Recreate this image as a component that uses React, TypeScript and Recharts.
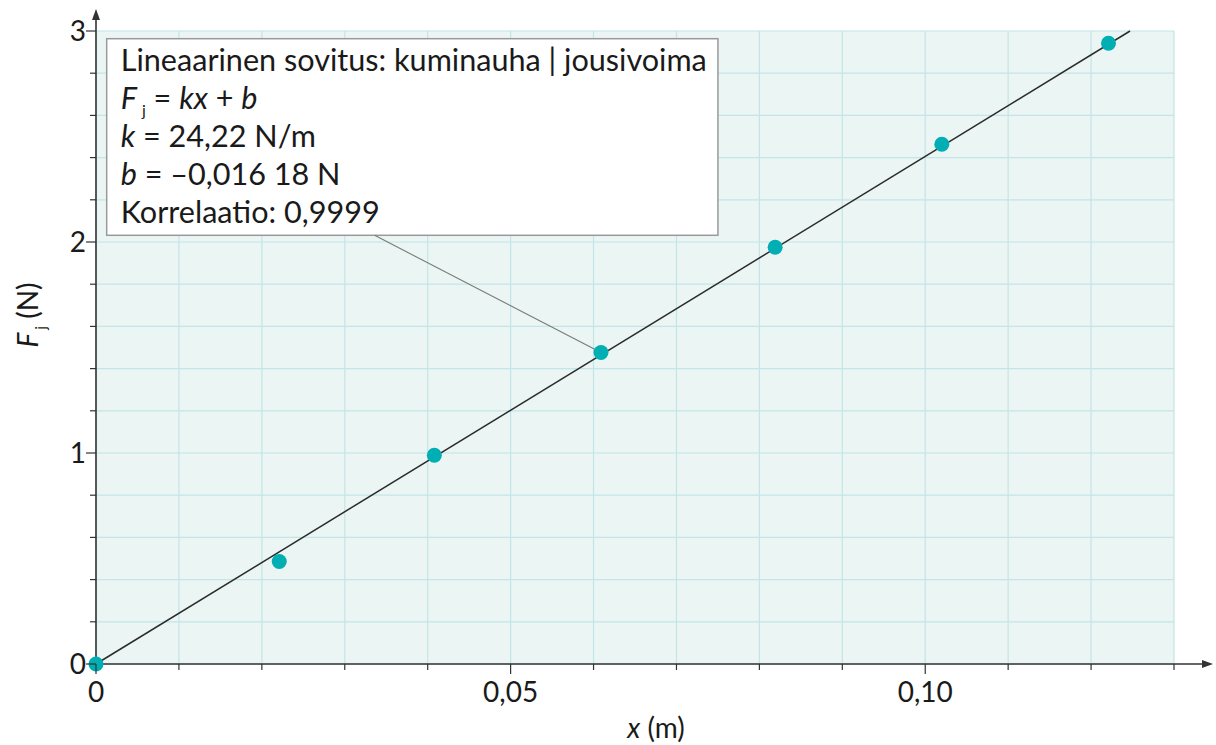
import React from 'react';
import {
  ComposedChart,
  Line,
  Scatter,
  XAxis,
  YAxis,
  CartesianGrid,
  ReferenceLine,
  ReferenceArea,
  Label,
} from 'recharts';

// measured points: stretch x (m) vs spring force F (N)
const stretch = [0, 0.0221, 0.0408, 0.0609, 0.0819, 0.102, 0.1221];
const force = [0, 0.486, 0.989, 1.476, 1.975, 2.463, 2.942];

// fitted line end points
const fitX = [0, 0.1247];
const fitF = [0, 3];

const xTicks = [0, 0.01, 0.02, 0.03, 0.04, 0.05, 0.06, 0.07, 0.08, 0.09, 0.1, 0.11, 0.12, 0.13];
const yTicks = [0, 0.2, 0.4, 0.6, 0.8, 1, 1.2, 1.4, 1.6, 1.8, 2, 2.2, 2.4, 2.6, 2.8, 3];

const fitTitle = 'Lineaarinen sovitus: kuminauha | jousivoima';
const kText = ' = 24,22 N/m';
const bText = ' = –0,016 18 N';
const corrText = 'Korrelaatio: 0,9999';

const points = stretch.map((x, i) => ({ x, F: force[i] }));
const fitLine = fitX.map((x, i) => ({ x, F: fitF[i] }));

const FONT = 'Lato, "Open Sans", sans-serif';
const INK = '#1a1a1a';
const AXIS = '#333333';
const TEAL = '#00aeb3';

const isMajor = (v: number, step: number) => Math.abs(v / step - Math.round(v / step)) < 1e-6;
const fmt = (v: number) => (v === 0 ? '0' : v.toFixed(2).replace('.', ','));

const XTick = (props: any) => {
  const { x, y, payload } = props;
  const major = isMajor(payload.value, 0.05);
  return (
    <g>
      <line x1={x} x2={x} y1={y} y2={y + (major ? 10 : 6)} stroke={AXIS} strokeWidth={1.2} />
      {major && (
        <text x={x} y={y + 38} textAnchor="middle" fontSize={28} fontFamily={FONT} fill={INK}>
          {fmt(payload.value)}
        </text>
      )}
    </g>
  );
};

const YTick = (props: any) => {
  const { x, y, payload } = props;
  const major = isMajor(payload.value, 1);
  return (
    <g>
      <line x1={x} x2={x - (major ? 10 : 6)} y1={y} y2={y} stroke={AXIS} strokeWidth={1.2} />
      {major && (
        <text x={x - 10} y={y + 10} textAnchor="end" fontSize={28} fontFamily={FONT} fill={INK}>
          {payload.value}
        </text>
      )}
    </g>
  );
};

const Arrow = (props: any) => {
  const { x1, y1, x2, y2 } = props;
  const ang = Math.atan2(y2 - y1, x2 - x1);
  const len = 11;
  const half = 4;
  const bx = x2 - len * Math.cos(ang);
  const by = y2 - len * Math.sin(ang);
  const px = -Math.sin(ang) * half;
  const py = Math.cos(ang) * half;
  return (
    <g>
      <line x1={x1} y1={y1} x2={bx} y2={by} stroke={AXIS} strokeWidth={1.6} />
      <polygon points={`${x2},${y2} ${bx + px},${by + py} ${bx - px},${by - py}`} fill={AXIS} />
    </g>
  );
};

const InfoBox = (props: any) => {
  const { x, y, width, height } = props;
  const tx = x + 14;
  const line = (i: number) => y + 32 + i * 38;
  return (
    <g fontFamily={FONT} fontSize={30.6} fill={INK}>
      <rect x={x} y={y} width={width} height={height} fill="#ffffff" stroke="#9a9a9a" strokeWidth={1.5} />
      <text x={tx} y={line(0)}>{fitTitle}</text>
      <text x={tx} y={line(1)}>
        <tspan fontStyle="italic">F</tspan>
        <tspan dx={5} dy={7} fontSize={16}>j</tspan>
        <tspan dy={-7}>{' = '}</tspan>
        <tspan fontStyle="italic">kx</tspan>
        <tspan>{' + '}</tspan>
        <tspan fontStyle="italic">b</tspan>
      </text>
      <text x={tx} y={line(2)}>
        <tspan fontStyle="italic">k</tspan>
        <tspan>{kText}</tspan>
      </text>
      <text x={tx} y={line(3)}>
        <tspan fontStyle="italic">b</tspan>
        <tspan>{bText}</tspan>
      </text>
      <text x={tx} y={line(4)}>{corrText}</text>
    </g>
  );
};

const XLabel = (props: any) => {
  const { viewBox } = props;
  return (
    <text x={viewBox.x + 560} y={viewBox.y + 74} textAnchor="middle" fontSize={28} fontFamily={FONT} fill={INK}>
      <tspan fontStyle="italic">x</tspan>
      <tspan>{' (m)'}</tspan>
    </text>
  );
};

const YLabel = (props: any) => {
  const { viewBox } = props;
  const cx = viewBox.x + 38;
  const cy = viewBox.y + 284;
  return (
    <text
      x={cx}
      y={cy}
      textAnchor="middle"
      fontSize={28}
      fontFamily={FONT}
      fill={INK}
      transform={`rotate(-90 ${cx} ${cy})`}
    >
      <tspan fontStyle="italic">F</tspan>
      <tspan dx={3} dy={8} fontSize={16}>j</tspan>
      <tspan dy={-8}>{' (N)'}</tspan>
    </text>
  );
};

export default function App() {
  return (
    <div style={{ position: 'absolute', left: 0, top: 0 }}>
      <ComposedChart
        width={1216}
        height={745}
        margin={{ top: 31, right: 42, bottom: 0, left: 0 }}
      >
        <CartesianGrid fill="#ebf5f3" stroke="#c3e5e7" strokeWidth={1.2} />
        <XAxis
          type="number"
          dataKey="x"
          domain={[0, 0.13]}
          ticks={xTicks}
          interval={0}
          height={81}
          axisLine={false}
          tickLine={false}
          tickSize={0}
          tickMargin={0}
          tick={<XTick />}
        >
          <Label content={<XLabel />} />
        </XAxis>
        <YAxis
          type="number"
          dataKey="F"
          domain={[0, 3]}
          ticks={yTicks}
          interval={0}
          width={96}
          axisLine={false}
          tickLine={false}
          tickSize={0}
          tickMargin={0}
          tick={<YTick />}
        >
          <Label content={<YLabel />} />
        </YAxis>
        <ReferenceLine
          segment={[{ x: 0, y: 0 }, { x: 0, y: 3.104 }]}
          ifOverflow="visible"
          shape={<Arrow />}
        />
        <ReferenceLine
          segment={[{ x: 0, y: 0 }, { x: 0.1347, y: 0 }]}
          ifOverflow="visible"
          shape={<Arrow />}
        />
        <ReferenceArea
          x1={0.00129}
          x2={0.075}
          y1={2.0318}
          y2={2.9635}
          ifOverflow="visible"
          shape={<InfoBox />}
        />
        <ReferenceLine
          segment={[{ x: 0.0336, y: 2.0318 }, { x: 0.0609, y: 1.476 }]}
          ifOverflow="visible"
          stroke="#7a7a7a"
          strokeWidth={1.1}
        />
        <Line
          data={fitLine}
          dataKey="F"
          stroke="#2b2b2b"
          strokeWidth={1.5}
          dot={false}
          activeDot={false}
          isAnimationActive={false}
        />
        <Scatter
          data={points}
          dataKey="F"
          fill={TEAL}
          isAnimationActive={false}
          shape={(p: any) => <circle cx={p.cx} cy={p.cy} r={7.5} fill={TEAL} />}
        />
      </ComposedChart>
    </div>
  );
}
